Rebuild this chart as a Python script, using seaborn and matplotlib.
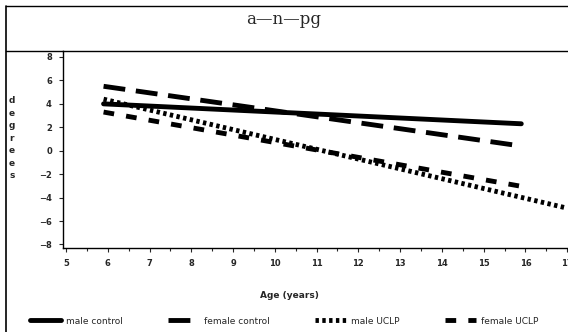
import matplotlib
matplotlib.use('Agg')
import matplotlib.pyplot as plt
import seaborn as sns
import pandas as pd
import numpy as np

groups = ['male control', 'female control', 'male UCLP', 'female UCLP']
age_start = [5.9, 5.9, 5.9, 5.9]
age_end = [15.9, 15.9, 17.0, 16.0]
deg_start = [4.0, 5.5, 4.4, 3.3]
deg_end = [2.3, 0.4, -4.9, -3.1]
x_ticks = [5, 6, 7, 8, 9, 10, 11, 12, 13, 14, 15, 16, 17]
y_ticks = [-8, -6, -4, -2, 0, 2, 4, 6, 8]

rows = []
for g, a0, a1, d0, d1 in zip(groups, age_start, age_end, deg_start, deg_end):
    rows.append({'group': g, 'age': a0, 'deg': d0})
    rows.append({'group': g, 'age': a1, 'deg': d1})
df = pd.DataFrame(rows)

sns.set_style('white')
plt.rcParams['font.family'] = ['DejaVu Sans']

fig = plt.figure(figsize=(5.68, 3.32), dpi=100)
ax = fig.add_axes([0.111, 0.253, 0.895, 0.593])

dashes = {'male control': '',
          'female control': (4.5, 2.2),
          'male UCLP': (0.7, 0.7),
          'female UCLP': (2.2, 2.5)}
sns.lineplot(data=df, x='age', y='deg', style='group', style_order=groups,
             dashes=dashes, color='black', linewidth=3.5, ax=ax, legend=True)

ax.set_xlim(4.93, 17.1)
ax.set_ylim(-8.3, 8.5)
ax.set_xticks(x_ticks)
ax.set_xticklabels([str(t) for t in x_ticks], fontsize=6, fontweight='bold')
ax.set_xticks(np.arange(5.5, 17, 1), minor=True)
ax.set_yticks(y_ticks)
ax.set_yticklabels([str(t).replace('-', '\u2212') for t in y_ticks], fontsize=6, fontweight='bold')
ax.tick_params(axis='both', which='major', direction='out', length=3, width=0.8, pad=5, bottom=True, left=True)
ax.tick_params(axis='x', which='minor', direction='out', length=2, width=0.8, bottom=True)
ax.set_xlabel('')
ax.set_ylabel('')
for s in ['left', 'bottom', 'top']:
    ax.spines[s].set_color('black')
    ax.spines[s].set_linewidth(1.0)
ax.spines['right'].set_visible(False)

ax.get_legend().remove()
handles, labels = ax.get_legend_handles_labels()
handles = handles[-4:]
labels = groups
fig.legend(handles, labels, loc='center', bbox_to_anchor=(0.5, 0.033), ncol=4,
           frameon=False, fontsize=6.5, handlelength=3.5, columnspacing=5,
           handletextpad=0.5)

fig.text(0.51, 0.111, 'Age (years)', ha='center', va='center', fontsize=6.5, fontweight='bold')
fig.text(0.5, 0.94, 'a\u2014n\u2014pg', ha='center', va='center', fontsize=12, family='DejaVu Serif')
fig.text(0.021, 0.584, '\n'.join('degrees'), ha='center', va='center', fontsize=6.5,
         fontweight='bold', linespacing=1.5)

fig.add_artist(plt.Line2D([0.0106, 0.0106], [0.0, 0.982], color='black', linewidth=1.2))
fig.add_artist(plt.Line2D([0.0106, 1.0], [0.982, 0.982], color='black', linewidth=1.0))
fig.add_artist(plt.Line2D([0.0106, 0.111], [0.846, 0.846], color='black', linewidth=1.0))

fig.savefig('out.png', dpi=100)
